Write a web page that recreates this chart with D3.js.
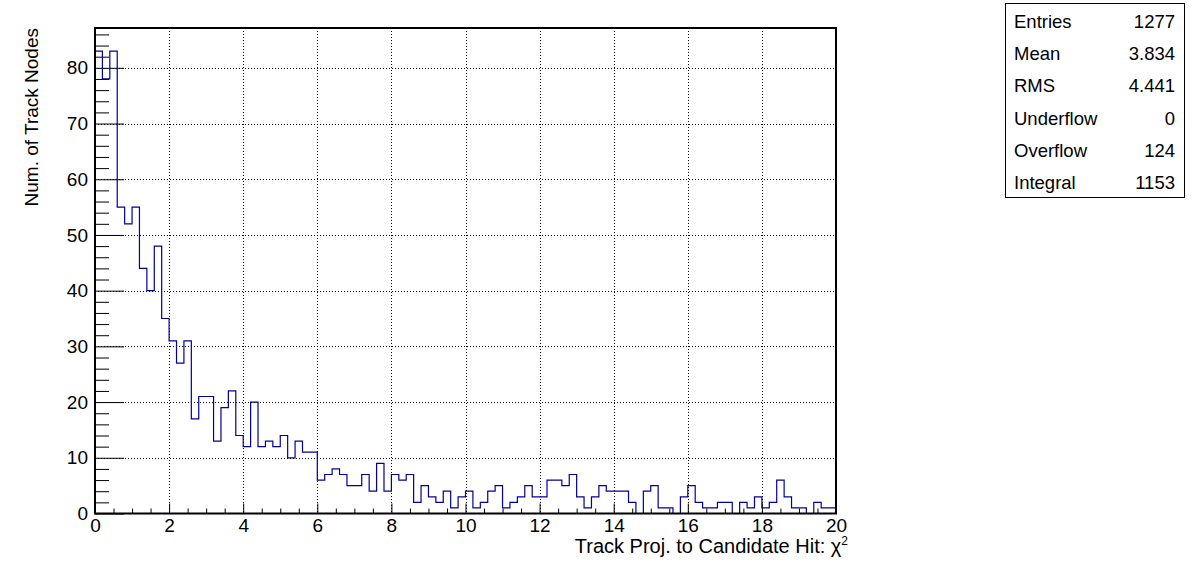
<!DOCTYPE html>
<html>
<head>
<meta charset="utf-8">
<script src="https://cdn.jsdelivr.net/npm/d3@7"></script>
<style>
  html, body { margin: 0; padding: 0; background: #fff; }
  svg { display: block; font-family: "Liberation Sans", Arial, sans-serif; }
</style>
</head>
<body>
<svg id="chart" width="1196" height="572"></svg>
<script>
// ---- data ----
const binEdgesRange = [0, 20];
const nBins = 100;
const counts = [
  83, 78, 83, 55, 52, 55, 44, 40, 48, 35,
  31, 27, 31, 17, 21, 21, 13, 19, 22, 14,
  12, 20, 12, 13, 12, 14, 10, 13, 11, 11,
  6, 7, 8, 7, 5, 5, 7, 4, 9, 4,
  7, 6, 7, 2, 5, 3, 2, 4, 1, 3,
  4, 1, 2, 4, 5, 1, 2, 3, 5, 3,
  3, 6, 6, 5, 7, 3, 1, 3, 5, 4,
  4, 4, 2, 0, 4, 5, 1, 1, 0, 3,
  5, 2, 1, 1, 2, 2, 0, 2, 1, 3,
  1, 2, 6, 3, 1, 1, 0, 2, 1, 1
];
const xMajorTicks = [0, 2, 4, 6, 8, 10, 12, 14, 16, 18, 20];
const yMajorTicks = [0, 10, 20, 30, 40, 50, 60, 70, 80];
const statLabels = ["Entries", "Mean", "RMS", "Underflow", "Overflow", "Integral"];
const statValues = ["1277", "3.834", "4.441", "0", "124", "1153"];
const xTitle = "Track Proj. to Candidate Hit: \u03C7";
const yTitle = "Num. of Track Nodes";

// ---- layout ----
const L = 95, R = 836, T = 28, B = 513.5;
const svg = d3.select("#chart");
const yMax = d3.max(counts) * 1.05;
const x = d3.scaleLinear().domain(binEdgesRange).range([L, R]);
const y = d3.scaleLinear().domain([0, yMax]).range([B, T]);
const bw = (binEdgesRange[1] - binEdgesRange[0]) / nBins;

// grid
const g = svg.append("g");
g.selectAll("line.gx").data(xMajorTicks.filter(v => v > 0 && v < 20)).enter()
  .append("line").attr("x1", d => Math.round(x(d)) + 0.5).attr("x2", d => Math.round(x(d)) + 0.5)
  .attr("y1", T).attr("y2", B)
  .attr("stroke", "#000").attr("stroke-width", 1).attr("stroke-dasharray", "1,2");
g.selectAll("line.gy").data(yMajorTicks.filter(v => v > 0)).enter()
  .append("line").attr("x1", L).attr("x2", R)
  .attr("y1", d => Math.round(y(d)) + 0.5).attr("y2", d => Math.round(y(d)) + 0.5)
  .attr("stroke", "#000").attr("stroke-width", 1).attr("stroke-dasharray", "1,2");

// minor ticks
const xMinor = d3.range(0, 20.001, 0.5).filter(v => v % 2 !== 0);
const yMinor = d3.range(0, 87, 2).filter(v => v % 10 !== 0);

const xMinorAxis = d3.axisBottom(x).tickValues(xMinor).tickSize(-5).tickFormat("");
svg.append("g").attr("transform", `translate(0,${B})`).call(xMinorAxis)
  .call(s => s.select(".domain").remove());
const yMinorAxis = d3.axisLeft(y).tickValues(yMinor).tickSize(-14).tickFormat("");
svg.append("g").attr("transform", `translate(${L},0)`).call(yMinorAxis)
  .call(s => s.select(".domain").remove());

// major axes
const xAxis = d3.axisBottom(x).tickValues(xMajorTicks).tickSizeInner(-10).tickSizeOuter(0).tickPadding(6)
  .tickFormat(d3.format("d"));
const xg = svg.append("g").attr("transform", `translate(0,${B})`).call(xAxis);
xg.select(".domain").remove();
xg.selectAll("text").attr("font-size", 19).attr("fill", "#000").attr("dy", "0.71em").attr("y", 5);
xg.selectAll("line").attr("stroke", "#000");

const yAxis = d3.axisLeft(y).tickValues(yMajorTicks).tickSizeInner(-29).tickSizeOuter(0).tickPadding(7)
  .tickFormat(d3.format("d"));
const yg = svg.append("g").attr("transform", `translate(${L},0)`).call(yAxis);
yg.select(".domain").remove();
yg.selectAll("text").attr("font-size", 19).attr("fill", "#000").attr("x", -7);
yg.selectAll("line").attr("stroke", "#000");

// histogram step line
let p = d3.path();
p.moveTo(x(0), y(0));
counts.forEach((c, i) => {
  p.lineTo(x(i * bw), y(c));
  p.lineTo(x((i + 1) * bw), y(c));
});
p.lineTo(x(20), y(0));
svg.append("path").attr("d", p.toString())
  .attr("fill", "none").attr("stroke", "#00009a").attr("stroke-width", 1.2);

// frame
svg.append("rect").attr("x", L).attr("y", T).attr("width", R - L).attr("height", B - T)
  .attr("fill", "none").attr("stroke", "#000").attr("stroke-width", 2);

// axis titles
const xt = svg.append("text").attr("x", 848).attr("y", 553).attr("text-anchor", "end")
  .attr("font-size", 20).attr("fill", "#000");
xt.append("tspan").text(xTitle);
xt.append("tspan").text("2").attr("font-size", 12).attr("dy", -8);

svg.append("text").attr("transform", `translate(38,${T}) rotate(-90)`)
  .attr("text-anchor", "end").attr("font-size", 19).attr("fill", "#000").text(yTitle);

// stats box
const sb = svg.append("g");
sb.append("rect").attr("x", 1005.5).attr("y", 3.5).attr("width", 179).attr("height", 194)
  .attr("fill", "#fff").attr("stroke", "#000").attr("stroke-width", 1);
const rowY = d3.scaleLinear().domain([0, statLabels.length - 1]).range([28, 189]);
sb.selectAll("text.lab").data(statLabels).enter().append("text")
  .attr("x", 1014).attr("y", (d, i) => rowY(i)).attr("font-size", 18.5).attr("fill", "#000").text(d => d);
sb.selectAll("text.val").data(statValues).enter().append("text")
  .attr("x", 1175).attr("y", (d, i) => rowY(i)).attr("text-anchor", "end")
  .attr("font-size", 18.5).attr("fill", "#000").text(d => d);
</script>
</body>
</html>
